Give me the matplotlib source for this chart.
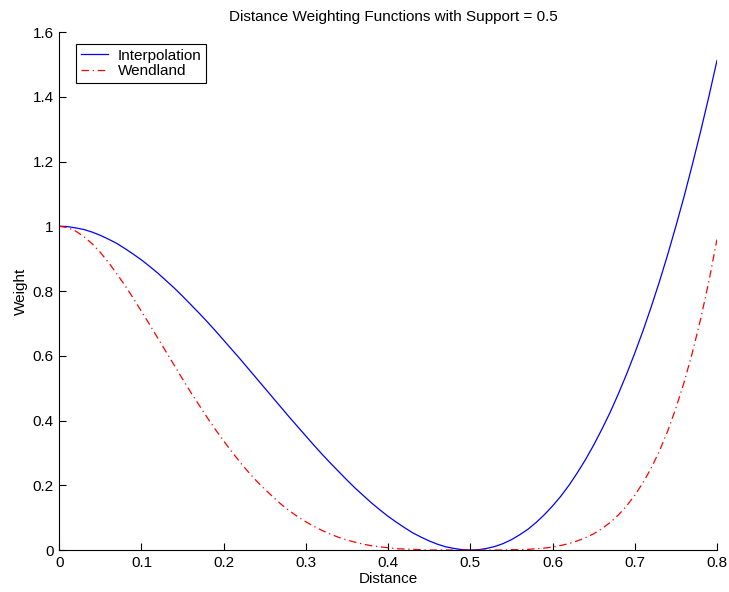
import numpy as np
import matplotlib
matplotlib.use("Agg")
import matplotlib.pyplot as plt

plt.rcParams['font.family'] = ['Liberation Sans', 'DejaVu Sans']

distance = np.round(np.arange(0, 0.8001, 0.01), 2)

interpolation = [1.000, 0.999, 0.995, 0.990, 0.982, 0.972, 0.960, 0.947, 0.931, 0.914,
                 0.896, 0.876, 0.855, 0.832, 0.809, 0.784, 0.758, 0.732, 0.705, 0.677,
                 0.648, 0.619, 0.590, 0.560, 0.530, 0.500, 0.470, 0.440, 0.410, 0.381,
                 0.352, 0.323, 0.295, 0.268, 0.242, 0.216, 0.191, 0.168, 0.145, 0.124,
                 0.104, 0.086, 0.069, 0.053, 0.040, 0.028, 0.018, 0.010, 0.005, 0.001,
                 0.000, 0.001, 0.005, 0.011, 0.020, 0.032, 0.047, 0.064, 0.085, 0.109,
                 0.136, 0.166, 0.200, 0.238, 0.279, 0.324, 0.373, 0.425, 0.482, 0.543,
                 0.608, 0.677, 0.751, 0.829, 0.912, 1.000, 1.092, 1.190, 1.292, 1.399,
                 1.512]

wendland = [1.000, 0.996, 0.985, 0.968, 0.946, 0.919, 0.888, 0.853, 0.817, 0.778,
            0.737, 0.696, 0.654, 0.612, 0.570, 0.528, 0.487, 0.448, 0.409, 0.372,
            0.337, 0.303, 0.271, 0.241, 0.213, 0.188, 0.164, 0.141, 0.121, 0.103,
            0.087, 0.073, 0.060, 0.049, 0.039, 0.031, 0.024, 0.018, 0.013, 0.010,
            0.007, 0.004, 0.003, 0.002, 0.001, 0.000, 0.000, 0.000, 0.000, 0.000,
            0.000, 0.000, 0.000, 0.000, 0.000, 0.001, 0.001, 0.002, 0.004, 0.006,
            0.009, 0.014, 0.020, 0.028, 0.038, 0.050, 0.066, 0.085, 0.108, 0.136,
            0.169, 0.208, 0.253, 0.306, 0.367, 0.438, 0.518, 0.609, 0.712, 0.828,
            0.959]

xticks = [0, 0.1, 0.2, 0.3, 0.4, 0.5, 0.6, 0.7, 0.8]
xticklabels = ['0', '0.1', '0.2', '0.3', '0.4', '0.5', '0.6', '0.7', '0.8']
yticks = [0, 0.2, 0.4, 0.6, 0.8, 1.0, 1.2, 1.4, 1.6]
yticklabels = ['0', '0.2', '0.4', '0.6', '0.8', '1', '1.2', '1.4', '1.6']

fig = plt.figure(figsize=(7.29, 5.92), dpi=100)
ax = fig.add_axes([0.0813, 0.0709, 0.9022, 0.8750])

ax.plot(distance, interpolation, color='blue', lw=0.9, label='Interpolation')
ax.plot(distance, wendland, color='red', lw=0.9, linestyle=(0, (6, 3, 1, 3)),
        label='Wendland')

ax.set_xlim(0, 0.8)
ax.set_ylim(0, 1.6)
ax.set_xticks(xticks)
ax.set_xticklabels(xticklabels)
ax.set_yticks(yticks)
ax.set_yticklabels(yticklabels)
ax.tick_params(direction='in', length=5, width=0.8, labelsize=11, pad=4)
ax.spines['top'].set_visible(False)
ax.spines['right'].set_visible(False)

ax.set_xlabel('Distance', fontsize=11, labelpad=2)
ax.set_ylabel('Weight', fontsize=11, labelpad=3)
ax.set_title('Distance Weighting Functions with Support = 0.5', fontsize=11, pad=8,
             x=0.508)

leg = ax.legend(loc='upper left', bbox_to_anchor=(0.026, 0.977), borderaxespad=0,
                fontsize=11, fancybox=False, framealpha=1, edgecolor='black',
                handlelength=1.8, borderpad=0.3, labelspacing=0.12,
                handletextpad=0.6)
leg.get_frame().set_linewidth(0.8)

fig.savefig('out.png', dpi=100)
